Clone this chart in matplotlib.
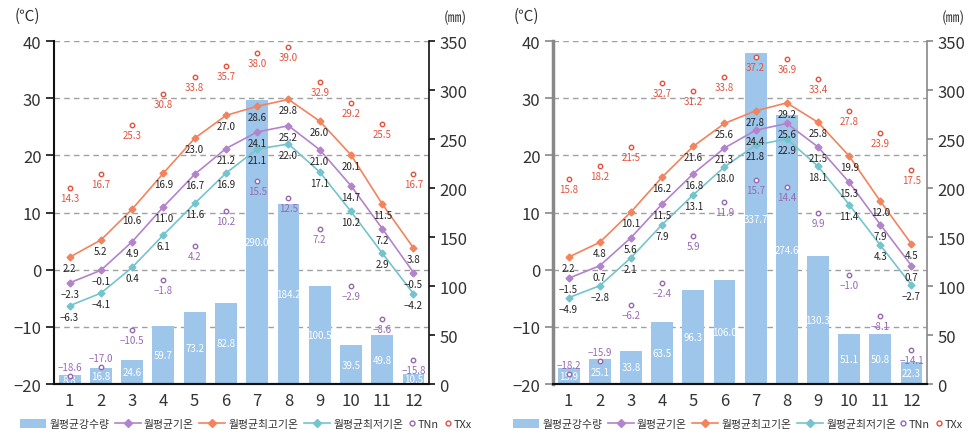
import matplotlib
matplotlib.use("Agg")
import matplotlib.pyplot as plt
import matplotlib.transforms as mtransforms
from matplotlib.lines import Line2D
from matplotlib.patches import Patch

plt.rcParams['font.family'] = ['Noto Sans CJK KR', 'DejaVu Sans']

months = [1, 2, 3, 4, 5, 6, 7, 8, 9, 10, 11, 12]
month_labels = ['1', '2', '3', '4', '5', '6', '7', '8', '9', '10', '11', '12']
temp_ticks = [-20, -10, 0, 10, 20, 30, 40]
precip_ticks = [0, 50, 100, 150, 200, 250, 300, 350]

# Left panel
precip_a = [8.8, 16.8, 24.6, 59.7, 73.2, 82.8, 290.0, 184.2, 100.5, 39.5, 49.8, 10.5]
tavg_a = [-2.3, -0.1, 4.9, 11.0, 16.7, 21.2, 24.1, 25.2, 21.0, 14.7, 7.2, -0.5]
tmax_a = [2.2, 5.2, 10.6, 16.9, 23.0, 27.0, 28.6, 29.8, 26.0, 20.1, 11.5, 3.8]
tmin_a = [-6.3, -4.1, 0.4, 6.1, 11.6, 16.9, 21.1, 22.0, 17.1, 10.2, 2.9, -4.2]
tnn_a = [-18.6, -17.0, -10.5, -1.8, 4.2, 10.2, 15.5, 12.5, 7.2, -2.9, -8.6, -15.8]
txx_a = [14.3, 16.7, 25.3, 30.8, 33.8, 35.7, 38.0, 39.0, 32.9, 29.2, 25.5, 16.7]

# Right panel
precip_b = [15.9, 25.1, 33.8, 63.5, 96.3, 106.0, 337.7, 274.6, 130.3, 51.1, 50.8, 22.3]
tavg_b = [-1.5, 0.7, 5.6, 11.5, 16.8, 21.3, 24.4, 25.6, 21.5, 15.3, 7.9, 0.7]
tmax_b = [2.2, 4.8, 10.1, 16.2, 21.6, 25.6, 27.8, 29.2, 25.8, 19.9, 12.0, 4.5]
tmin_b = [-4.9, -2.8, 2.1, 7.9, 13.1, 18.0, 21.8, 22.9, 18.1, 11.4, 4.3, -2.7]
tnn_b = [-18.2, -15.9, -6.2, -2.4, 5.9, 11.9, 15.7, 14.4, 9.9, -1.0, -8.1, -14.1]
txx_b = [15.8, 18.2, 21.5, 32.7, 31.2, 33.8, 37.2, 36.9, 33.4, 27.8, 23.9, 17.5]

legend_labels = ['월평균강수량', '월평균기온', '월평균최고기온', '월평균최저기온', 'TNn', 'TXx']

# months whose TNn label sits above its marker (to clear the bar labels)
tnn_label_above_months = [1, 2]

C_BAR = '#9DC6EA'
C_AVG = '#B383CB'
C_MAX = '#F3835C'
C_MIN = '#74C4CD'
C_TNN = '#9868B3'
C_TXX = '#E4513C'
C_TXT = '#222222'

fig = plt.figure(figsize=(9.68, 4.39), dpi=100)


def fmt(v):
    return f'{v:.1f}'.replace('-', '−')


def panel(rect, precip, tavg, tmax, tmin, tnn, txx, spine_color, left_lw,
          leg_left_px, leg_right_px):
    ax = fig.add_axes(rect)
    ax2 = ax.twinx()
    ax.set_zorder(2)
    ax2.set_zorder(1)
    ax.patch.set_visible(False)

    ax.set_xlim(0.5, 12.5)
    ax.set_ylim(-20, 40)
    ax2.set_ylim(0, 350)

    # grid (drawn beneath bars)
    tr = mtransforms.blended_transform_factory(ax2.transAxes, ax.transData)
    for t in temp_ticks[1:]:
        ax2.plot([0, 1], [t, t], transform=tr, color='#A0A0A0', lw=1.0,
                 ls=(0, (4, 3)), zorder=0.5)

    ax2.bar(months, precip, width=0.7, color=C_BAR, zorder=1)
    for m, p in zip(months, precip):
        ax2.text(m, p / 2, f'{p:.1f}', color='white', fontsize=7,
                 ha='center', va='center', zorder=2)

    for vals, col in [(tmax, C_MAX), (tavg, C_AVG), (tmin, C_MIN)]:
        ax.plot(months, vals, color=col, lw=1.2, marker='D', ms=3.5,
                zorder=3)
        for m, v in zip(months, vals):
            ax.annotate(fmt(v), (m, v), xytext=(0, -11),
                        textcoords='offset pixels', ha='center', va='center',
                        fontsize=7, color=C_TXT, zorder=4)

    for vals, col, is_tnn in [(tnn, C_TNN, True), (txx, C_TXX, False)]:
        ax.plot(months, vals, ls='none', marker='o', ms=3.2, mfc='white',
                mec=col, mew=1.0, zorder=3)
        for m, v in zip(months, vals):
            dy = 9 if (is_tnn and m in tnn_label_above_months) else -10
            ax.annotate(fmt(v), (m, v), xytext=(0, dy),
                        textcoords='offset pixels', ha='center', va='center',
                        fontsize=7, color=col, zorder=4)

    ax.set_xticks(months)
    ax.set_xticklabels(month_labels, fontsize=12, color='#333333')
    ax.tick_params(axis='x', length=0, pad=6)
    ax.set_yticks(temp_ticks)
    ax.set_yticklabels([str(t).replace('-', '−') for t in temp_ticks],
                       fontsize=12, color='#333333')
    ax.tick_params(axis='y', length=6, width=1.2, color=spine_color, pad=3)
    ax2.set_yticks(precip_ticks)
    ax2.set_yticklabels([str(p) for p in precip_ticks], fontsize=12,
                        color='#333333')
    ax2.tick_params(axis='y', length=4.5, width=1.2, color=spine_color, pad=3)

    for a in (ax, ax2):
        a.spines['top'].set_visible(False)
        a.spines['bottom'].set_color('#111111')
        a.spines['bottom'].set_linewidth(1.5)
    ax.spines['right'].set_visible(False)
    ax2.spines['left'].set_visible(False)
    ax.spines['left'].set_color(spine_color)
    ax.spines['left'].set_linewidth(left_lw)
    ax2.spines['right'].set_color(spine_color)
    ax2.spines['right'].set_linewidth(1.2)

    ax.text(-0.07, 1.075, '(℃)', transform=ax.transAxes, fontsize=11,
            color='#333333', ha='center', va='center')
    ax2.text(1.07, 1.07, '(㎜)', transform=ax.transAxes, fontsize=10,
             color='#333333', ha='center', va='center')

    h1 = [
        Patch(facecolor=C_BAR, edgecolor='none'),
        Line2D([], [], color=C_AVG, lw=1.2, marker='D', ms=4),
        Line2D([], [], color=C_MAX, lw=1.2, marker='D', ms=4),
        Line2D([], [], color=C_MIN, lw=1.2, marker='D', ms=4),
    ]
    h2 = [
        Line2D([], [], ls='none', marker='o', ms=3.5, mfc='white', mec=C_TNN, mew=1.0),
        Line2D([], [], ls='none', marker='o', ms=3.5, mfc='white', mec=C_TXX, mew=1.0),
    ]
    W, H = fig.get_size_inches() * fig.dpi
    yc = 14 / H
    leg1 = ax.legend(h1, legend_labels[:4], loc='center left', ncol=4,
                     bbox_to_anchor=(leg_left_px / W, yc),
                     bbox_transform=fig.transFigure, frameon=False,
                     fontsize=7.8, handlelength=2.4, handleheight=0.9,
                     handletextpad=0.3, columnspacing=0.5,
                     labelcolor='#333333', borderpad=0, borderaxespad=0)
    ax.add_artist(leg1)
    ax.legend(h2, legend_labels[4:], loc='center right', ncol=2,
              bbox_to_anchor=(leg_right_px / W, yc),
              bbox_transform=fig.transFigure, frameon=False,
              fontsize=7.8, handlelength=0.5, handletextpad=0.3,
              columnspacing=0.6, labelcolor='#333333', borderpad=0,
              borderaxespad=0)
    return ax, ax2


panel([0.0558, 0.123, 0.3875, 0.781], precip_a, tavg_a, tmax_a, tmin_a,
      tnn_a, txx_a, '#111111', 1.5, 20, 472)
panel([0.5713, 0.123, 0.3864, 0.781], precip_b, tavg_b, tmax_b, tmin_b,
      tnn_b, txx_b, '#888888', 2.5, 513, 963)

fig.savefig('out.png', dpi=100)
